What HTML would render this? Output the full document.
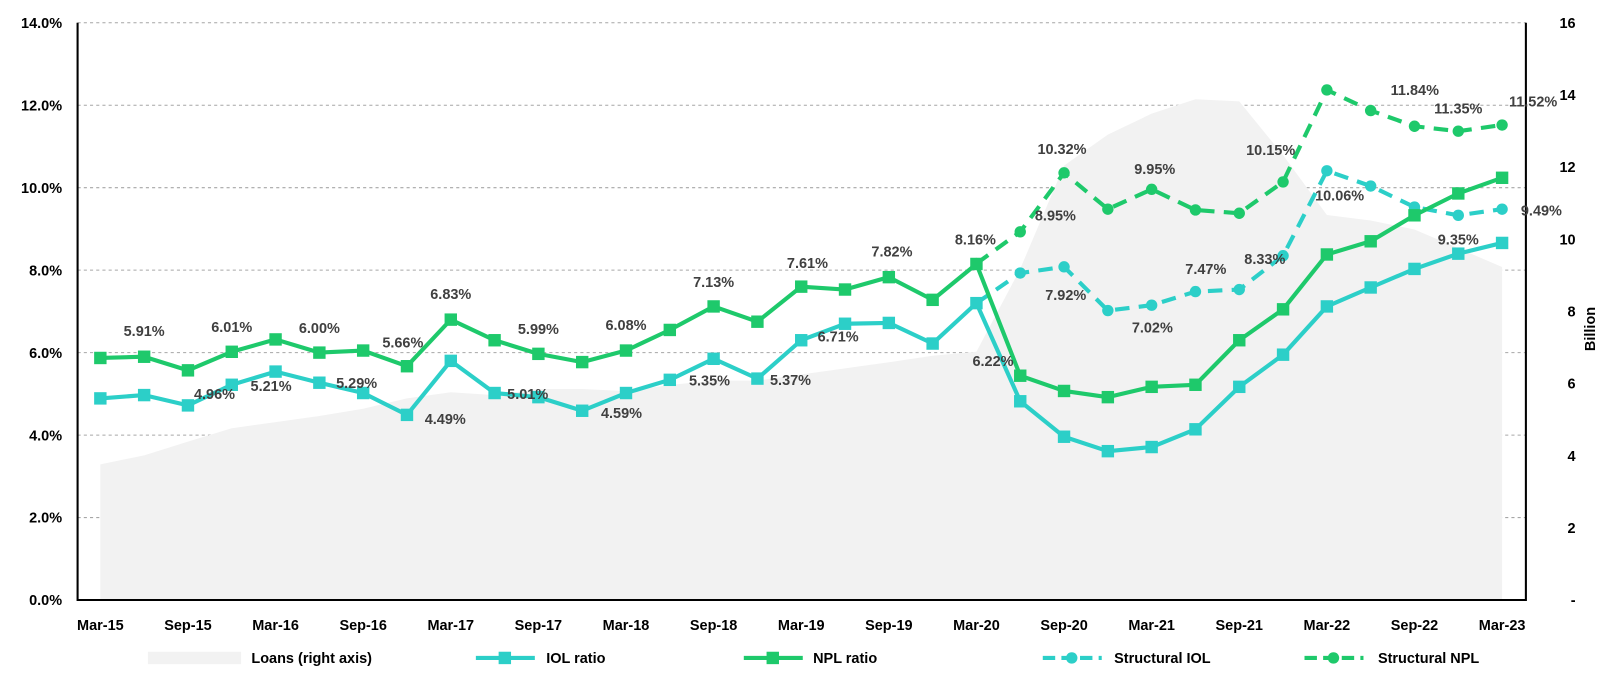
<!DOCTYPE html>
<html><head><meta charset="utf-8"><style>
body{margin:0;background:#fff;}
svg{display:block;font-family:"Liberation Sans",Arial,sans-serif;}
</style></head><body>
<svg id="chart" width="1622" height="696"><g id="root" transform="scale(1.0345)"></g></svg>
<script>
const categories=["Mar-15","Jun-15","Sep-15","Dec-15","Mar-16","Jun-16","Sep-16","Dec-16","Mar-17","Jun-17","Sep-17","Dec-17","Mar-18","Jun-18","Sep-18","Dec-18","Mar-19","Jun-19","Sep-19","Dec-19","Mar-20","Jun-20","Sep-20","Dec-20","Mar-21","Jun-21","Sep-21","Dec-21","Mar-22","Jun-22","Sep-22","Dec-22","Mar-23"];
const loans=[3.76,4.01,4.39,4.76,4.93,5.1,5.3,5.59,5.76,5.68,5.85,5.85,5.79,5.96,6.08,6.08,6.25,6.42,6.59,6.77,6.88,9.18,12.04,12.9,13.48,13.88,13.82,12.33,10.67,10.52,10.27,9.75,9.23];
const npl=[5.87,5.9,5.57,6.02,6.32,6.0,6.05,5.67,6.8,6.3,5.97,5.77,6.05,6.55,7.12,6.75,7.6,7.53,7.83,7.28,8.15,5.44,5.07,4.92,5.17,5.22,6.3,7.05,8.38,8.7,9.33,9.86,10.24];
const iol=[4.89,4.97,4.72,5.22,5.54,5.27,5.02,4.49,5.8,5.02,4.92,4.59,5.02,5.34,5.85,5.37,6.3,6.7,6.72,6.22,7.2,4.82,3.96,3.61,3.71,4.14,5.17,5.95,7.12,7.58,8.03,8.4,8.66];
const structNpl=[null,null,null,null,null,null,null,null,null,null,null,null,null,null,null,null,null,null,null,null,8.16,8.93,10.36,9.48,9.96,9.46,9.38,10.14,12.37,11.87,11.49,11.37,11.52];
const structIol=[null,null,null,null,null,null,null,null,null,null,null,null,null,null,null,null,null,null,null,null,7.2,7.93,8.08,7.02,7.15,7.48,7.53,8.35,10.41,10.04,9.53,9.33,9.48];
const leftTicks=["0.0%","2.0%","4.0%","6.0%","8.0%","10.0%","12.0%","14.0%"];
const rightTicks=["-","2","4","6","8","10","12","14","16"];
const labels=[
["npl",1,"5.91%",0,-25],["npl",3,"6.01%",0,-24],["npl",5,"6.00%",0,-24],["npl",7,"5.66%",-4,-23],["npl",8,"6.83%",0,-25],["npl",10,"5.99%",0,-24],["npl",12,"6.08%",0,-25],["npl",14,"7.13%",0,-24],["npl",16,"7.61%",6,-23],["npl",18,"7.82%",3,-25],["npl",20,"8.16%",-1,-24],
["iol",1,"4.96%",68,-1],["iol",3,"5.21%",38,1],["iol",5,"5.29%",36,0],["iol",7,"4.49%",37,4],["iol",9,"5.01%",32,1],["iol",11,"4.59%",38,2],["iol",14,"5.35%",-4,21],["iol",15,"5.37%",32,1],["iol",18,"6.71%",-49,13],["iol",20,"6.22%",16,56],
["snpl",21,"8.95%",34,-16],["snpl",22,"10.32%",-2,-23],["snpl",24,"9.95%",3,-20],["snpl",27,"10.15%",-12,-31],["snpl",28,"11.84%",85,0],["snpl",31,"11.35%",0,-22],["snpl",32,"11.52%",30,-23],
["siol",21,"7.92%",44,21],["siol",23,"7.02%",43,16],["siol",25,"7.47%",10,-22],["siol",29,"10.06%",-30,9],["siol",31,"9.35%",0,23],["siol",32,"9.49%",38,1],["npl",28,"8.33%",-60,4]];
const NS="http://www.w3.org/2000/svg";
const svg=document.getElementById('root');
const X0=97,X1=1452,YT=22,YB=580;
function xs(i){return X0+(X1-X0)*i/(categories.length-1);}
function yl(v){return YB-(YB-YT)*v/14;}
function yr(v){return YB-(YB-YT)*v/16;}
function el(tag,attrs,parent){const e=document.createElementNS(NS,tag);for(const k in attrs)e.setAttribute(k,attrs[k]);(parent||svg).appendChild(e);return e;}
leftTicks.forEach((t,k)=>{const v=k*2;
 if(k>0){const g=el('line',{x1:75,x2:1475,y1:yl(v),y2:yl(v),stroke:'#a6a6a6','stroke-dasharray':'3,3','stroke-width':1});
 
 }
 const tx=el('text',{x:60,y:yl(v)+5,'text-anchor':'end','font-size':14,'font-weight':'bold',fill:'#000'});tx.textContent=t;
 
 
});
rightTicks.forEach((t,k)=>{const tx=el('text',{x:1523,y:yr(k*2)+5,'text-anchor':'end','font-size':14,'font-weight':'bold',fill:'#000'});tx.textContent=t;
 
 });
let d='M'+xs(0)+','+YB;loans.forEach((v,i)=>{d+=' L'+xs(i)+','+yr(v);});d+=' L'+xs(loans.length-1)+','+YB+' Z';
const area=el('path',{d:d,fill:'#f2f2f2'});


const ax=el('path',{d:'M75,22 V580 H1475 V22',fill:'none',stroke:'#000','stroke-width':2});


categories.forEach((c,i)=>{if(i%2)return;const tx=el('text',{x:xs(i),y:609,'text-anchor':'middle','font-size':14,'font-weight':'bold',fill:'#000'});tx.textContent=c;
 
 });
const bt=el('text',{x:0,y:0,'font-size':14,'font-weight':'bold','text-anchor':'middle',transform:'translate(1542,318) rotate(-90)'});bt.textContent='Billion';


function series(vals,color,dashed,marker,name){
 let p='';vals.forEach((v,i)=>{if(v==null)return;p+=(p?' L':'M')+xs(i)+','+yl(v);});
 const l=el('path',{d:p,fill:'none',stroke:color,'stroke-width':4,'stroke-linejoin':'round'});
 if(dashed)l.setAttribute('stroke-dasharray','14,9');
 
 
 vals.forEach((v,i)=>{if(v==null)return;let m;
  if(marker==='sq')m=el('rect',{x:xs(i)-6,y:yl(v)-6,width:12,height:12,fill:color});
  else m=el('circle',{cx:xs(i),cy:yl(v),r:5.5,fill:color});
  
  });
}
const cN='#1ec96b',cI='#2ccfc8';
series(structIol,cI,true,'c','structural-iol');
series(structNpl,cN,true,'c','structural-npl');
series(iol,cI,false,'sq','iol');
series(npl,cN,false,'sq','npl');
const src={npl:npl,iol:iol,snpl:structNpl,siol:structIol};
labels.forEach(([s,i,t,dx,dy])=>{const tx=el('text',{x:xs(i)+dx,y:yl(src[s][i])+dy+5,'text-anchor':'middle','font-size':14,'font-weight':'bold',fill:'#404040'});tx.textContent=t;
 
 });
const lg=el('g',{});


const r=el('rect',{x:143,y:630,width:90,height:12,fill:'#f2f2f2'},lg);


function lgLine(x,color,dashed,marker,name){
 const l=el('line',{x1:x,x2:x+57,y1:636,y2:636,stroke:color,'stroke-width':4},lg);
 if(dashed)l.setAttribute('stroke-dasharray','12,6');
 
 
 const m=marker==='sq'?el('rect',{x:x+22,y:630,width:12,height:12,fill:color},lg):el('circle',{cx:x+28,cy:636,r:5.5,fill:color},lg);
 
 
}
lgLine(460,cI,false,'sq','iol');lgLine(719,cN,false,'sq','npl');lgLine(1008,cI,true,'c','structural-iol');lgLine(1261,cN,true,'c','structural-npl');
[[243,'Loans (right axis)'],[528,'IOL ratio'],[786,'NPL ratio'],[1077,'Structural IOL'],[1332,'Structural NPL']].forEach(([x,t])=>{const tx=el('text',{x:x,y:641,'font-size':14,'font-weight':'bold',fill:'#000'},lg);tx.textContent=t;
 
 });
</script>
</body></html>
